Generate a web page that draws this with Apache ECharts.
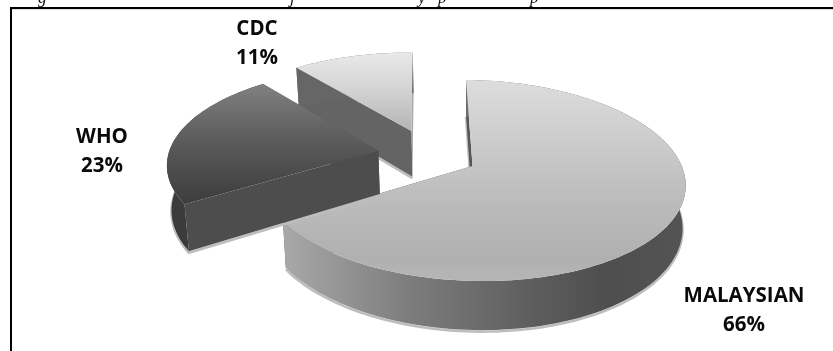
<!DOCTYPE html>
<html>
<head>
<meta charset="utf-8">
<style>html,body{margin:0;padding:0;background:#fff}#chart{width:833px;height:351px}</style>
<script src="https://cdn.jsdelivr.net/npm/echarts@6/dist/echarts.min.js"></script>
</head>
<body>
<div id="chart"></div>
<script>
// Share of each guideline source
const categories = ['MALAYSIAN', 'WHO', 'CDC'];
const shares = [66, 23, 11];

// How far each slice is pulled out of the pie, in units of the pie radius
const explodeU = [0, -0.455, -0.304];
const explodeV = [0, 0.135, 0.36];
// Wall height of each slice relative to the common depth
const wallScale = [1, 1.05, 1.15];
// Painter's order: CDC lies behind, WHO sits on top
const stacking = [2, 3, 1];

// Label anchors
const labelX = [744, 102, 257];
const labelY = [296, 137, 29];

// Fragments of the caption that show above the frame
const captionBits = ['g', 'j', 'y', 'p', 'p'];
const captionX = [38, 290, 418, 438, 530];

// Perspective view of the tilted disc
const view = { x: 472.5, y: 166, rx: 211, ry: 98.4, k: 0.144, skew: 5, depth: 42, taper: 0.015, rotate: -2 };

const stop = (offset, color) => ({ offset, color });
const vertical = (y, y2, stops) => ({ type: 'linear', x: 0, y, x2: 0, y2, global: true, colorStops: stops });
const horizontal = (x, x2, stops) => ({ type: 'linear', x, y: 0, x2, y2: 0, global: true, colorStops: stops });

const topFill = [
  vertical(80, 282, [stop(0, '#dddddd'), stop(0.55, '#bebebe'), stop(0.88, '#b0b0b0'), stop(1, '#b6b6b6')]),
  vertical(85, 205, [stop(0, '#808080'), stop(0.4, '#606060'), stop(0.85, '#444444'), stop(1, '#3d3d3d')]),
  vertical(54, 130, [stop(0, '#e8e8e8'), stop(0.5, '#d2d2d2'), stop(1, '#b4b4b4')])
];
const rimFill = [
  horizontal(285, 687, [stop(0, '#a8a8a8'), stop(0.3, '#7e7e7e'), stop(0.6, '#5f5f5f'), stop(0.8, '#4e4e4e'), stop(1, '#545454')]),
  '#3b3b3b',
  '#666666'
];
const startWallFill = ['#555555', '#4d4d4d', '#646464'];
const endWallFill = ['#555555', '#4d4d4d', '#a8a8a8'];
const shadowColor = '#bdbdbd';

function project(u, v) {
  const d = 1 + view.k * v;
  return [view.x + view.rx * u / d, view.y - (view.ry * v - view.skew * u) / d];
}
function drop(p, v, scale) {
  const d = 1 + view.k * v;
  return [view.x + (p[0] - view.x) * (1 - view.taper), p[1] + view.depth * scale / d];
}

function renderSlice(params, api) {
  const i = params.dataIndex;
  const value = api.value(0);
  const total = shares.reduce((a, b) => a + b, 0);
  const before = shares.slice(0, i).reduce((a, b) => a + b, 0);
  const rad = d => (d + view.rotate) * Math.PI / 180;
  const a0 = rad(before / total * 360);
  const a1 = rad((before + value) / total * 360);
  const ou = explodeU[i], ov = explodeV[i];

  const arcTop = [], arcBottom = [];
  const steps = Math.max(12, Math.round(value * 2));
  for (let s = 0; s <= steps; s++) {
    const a = a0 + (a1 - a0) * s / steps;
    const u = ou + Math.sin(a), v = ov + Math.cos(a);
    const p = project(u, v);
    arcTop.push(p);
    arcBottom.push(drop(p, v, wallScale[i]));
  }
  const apex = project(ou, ov);
  const apexBottom = drop(apex, ov, wallScale[i]);
  const z = stacking[i] * 10;
  const poly = (points, fill, order) => ({
    type: 'polygon', shape: { points }, style: { fill }, z2: z + order, silent: true
  });
  const shadowLine = [apexBottom, ...arcBottom].map(p => [p[0], p[1] + 1.5]);
  const children = [
    {
      type: 'polyline', shape: { points: shadowLine },
      style: { stroke: shadowColor, lineWidth: 2.5, fill: null }, z2: z, silent: true
    },
    poly([apex, arcTop[0], arcBottom[0], apexBottom], startWallFill[i], 1),
    poly([apex, arcTop[steps], arcBottom[steps], apexBottom], endWallFill[i], 1),
    poly([...arcTop, ...arcBottom.slice().reverse()], rimFill[i], 2),
    poly([apex, ...arcTop], topFill[i], 3),
    {
      type: 'text', x: labelX[i], y: labelY[i] + 14.5, z2: 100, silent: true,
      style: {
        text: categories[i] + '\n' + value + '%',
        x: 0, y: 0, align: 'center', verticalAlign: 'middle',
        fontFamily: '"Open Sans"', fontWeight: 700, fontSize: 20.5, lineHeight: 29, fill: '#0a0a0a'
      }
    }
  ];
  return { type: 'group', children };
}

const chart = echarts.init(document.getElementById('chart'), null, { renderer: 'canvas' });
chart.setOption({
  animation: false,
  backgroundColor: '#ffffff',
  graphic: [
    { type: 'rect', shape: { x: 11, y: 9, width: 822, height: 1 }, style: { fill: '#dddddd' }, silent: true },
    { type: 'rect', shape: { x: 10, y: 7, width: 823, height: 2 }, style: { fill: '#000000' }, silent: true },
    { type: 'rect', shape: { x: 10, y: 7, width: 2, height: 344 }, style: { fill: '#000000' }, silent: true },
    ...captionBits.map((t, i) => ({
      type: 'text', x: captionX[i], y: -10, silent: true,
      style: { text: t, fontFamily: '"Liberation Serif"', fontStyle: 'italic', fontSize: 17, fill: '#111111' }
    }))
  ],
  series: [{
    type: 'custom',
    coordinateSystem: 'none',
    renderItem: renderSlice,
    data: shares.map(v => [v])
  }]
});
</script>
</body>
</html>
